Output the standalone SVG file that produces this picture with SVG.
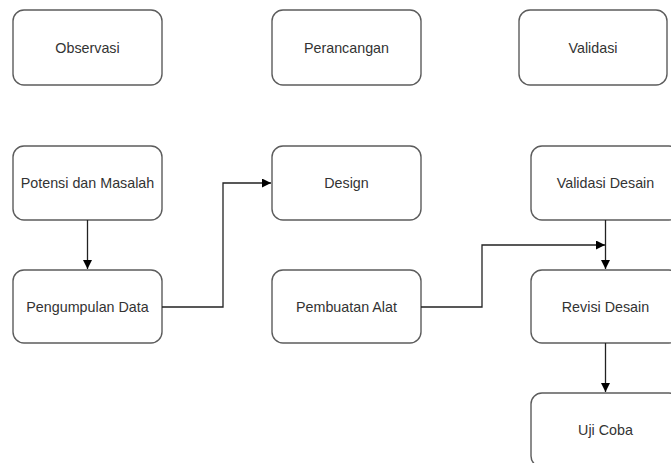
<svg xmlns="http://www.w3.org/2000/svg" width="671" height="463" viewBox="0 0 671 463">
<style>
.box{fill:#fff;stroke:#5c5c5c;stroke-width:1.4}
.lbl{font-family:"Liberation Sans",Arial,sans-serif;font-size:14.3px;fill:#333;text-anchor:middle;dominant-baseline:central}
.edge{fill:none;stroke:#222;stroke-width:1.3}
</style>
<defs>
<marker id="arr" markerWidth="12" markerHeight="12" refX="9" refY="4.5" orient="auto" markerUnits="userSpaceOnUse">
<path d="M0,0 L9,4.5 L0,9 Z" fill="#000"/>
</marker>
</defs>
<rect width="671" height="463" fill="#fff"/>
<g id="observasi"><rect class="box" x="13" y="10" width="149" height="75" rx="11"/><text class="lbl" x="87.5" y="47.5">Observasi</text></g>
<g id="perancangan"><rect class="box" x="272" y="10" width="149" height="75" rx="11"/><text class="lbl" x="346.5" y="47.5">Perancangan</text></g>
<g id="validasi"><rect class="box" x="519" y="10" width="148" height="75" rx="11"/><text class="lbl" x="593" y="47.5">Validasi</text></g>
<g id="potensi"><rect class="box" x="13" y="146" width="149" height="74" rx="11"/><text class="lbl" x="87.5" y="183">Potensi dan Masalah</text></g>
<g id="pengumpulan"><rect class="box" x="13" y="270" width="149" height="73" rx="11"/><text class="lbl" x="87.5" y="306.5">Pengumpulan Data</text></g>
<g id="design"><rect class="box" x="272" y="146" width="149" height="74" rx="11"/><text class="lbl" x="346.5" y="183">Design</text></g>
<g id="pembuatan"><rect class="box" x="272" y="270" width="149" height="73" rx="11"/><text class="lbl" x="346.5" y="306.5">Pembuatan Alat</text></g>
<g id="validasi-desain"><rect class="box" x="531" y="146" width="149" height="74" rx="11"/><text class="lbl" x="605.5" y="183">Validasi Desain</text></g>
<g id="revisi"><rect class="box" x="531" y="270" width="149" height="73" rx="11"/><text class="lbl" x="605.5" y="306.5">Revisi Desain</text></g>
<g id="uji-coba"><rect class="box" x="531" y="393" width="149" height="74" rx="11"/><text class="lbl" x="605.5" y="430">Uji Coba</text></g>
<g id="connectors">
<path class="edge" d="M87.5,220 V269" marker-end="url(#arr)"/>
<path class="edge" d="M162,307 H223 V183 H271" marker-end="url(#arr)"/>
<path class="edge" d="M421,307 H482 V245 H605" marker-end="url(#arr)"/>
<path class="edge" d="M605.5,220 V269" marker-end="url(#arr)"/>
<path class="edge" d="M605.5,343 V392" marker-end="url(#arr)"/>
</g>
</svg>
